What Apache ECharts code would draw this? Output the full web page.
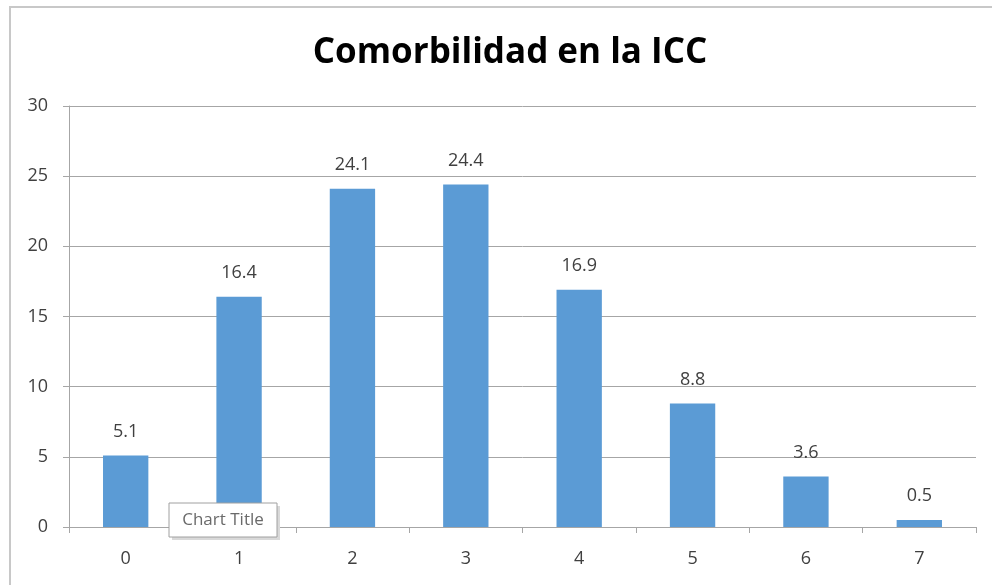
<!DOCTYPE html>
<html>
<head>
<meta charset="utf-8">
<script src="https://cdn.jsdelivr.net/npm/echarts@6/dist/echarts.min.js"></script>
<style>
html,body{margin:0;padding:0;background:#fff;}
#chart{width:992px;height:585px;}
</style>
</head>
<body>
<div id="chart"></div>
<script>
const titleText = 'Comorbilidad en la ICC';
const categories = ['0','1','2','3','4','5','6','7'];
const values = [5.1, 16.4, 24.1, 24.4, 16.9, 8.8, 3.6, 0.5];
const yTicks = {min: 0, max: 30, interval: 5};

const chart = echarts.init(document.getElementById('chart'));
chart.setOption({
  animation: false,
  backgroundColor: '#ffffff',
  title: {
    text: titleText,
    left: 505,
    textAlign: 'center',
    top: 31,
    textStyle: {fontFamily: 'Open Sans', fontWeight: 'bold', fontSize: 35, color: '#000'}
  },
  grid: {left: 69, right: 16, top: 106, bottom: 58, containLabel: false},
  xAxis: {
    type: 'category',
    data: categories,
    boundaryGap: true,
    axisLine: {lineStyle: {color: '#a6a6a6', width: 1}},
    axisTick: {show: true, alignWithLabel: false, length: 6, lineStyle: {color: '#a6a6a6'}},
    axisLabel: {fontFamily: 'Open Sans', fontSize: 18, color: '#404040', margin: 23}
  },
  yAxis: {
    type: 'value',
    min: yTicks.min, max: yTicks.max, interval: yTicks.interval,
    axisLine: {show: true, lineStyle: {color: '#a6a6a6'}},
    axisTick: {show: true, length: 6, lineStyle: {color: '#a6a6a6'}},
    splitLine: {lineStyle: {color: '#a6a6a6', width: 1}},
    axisLabel: {fontFamily: 'Open Sans', fontSize: 18, color: '#404040', margin: 21}
  },
  series: [{
    type: 'bar',
    data: values,
    barWidth: '40%',
    itemStyle: {color: '#5b9bd5'},
    label: {
      show: true, position: 'top', distance: 15,
      fontFamily: 'Open Sans', fontSize: 18, color: '#404040',
      formatter: p => p.value.toFixed(1)
    }
  }],
  graphic: [
    {type: 'rect', shape: {x: 10, y: 7, width: 1000, height: 600},
     style: {fill: 'none', stroke: '#c8c8c8', lineWidth: 2}, z: 100, silent: true},
    {type: 'rect', shape: {x: 172, y: 506, width: 108, height: 34},
     style: {fill: '#d9d9d9'}, z: 101, silent: true},
    {type: 'rect', shape: {x: 169, y: 503, width: 108, height: 34},
     style: {fill: '#ffffff', stroke: '#a0a0a0', lineWidth: 1}, z: 102, silent: true},
    {type: 'text', x: 223, y: 520, z: 103, silent: true,
     style: {text: 'Chart Title', fontFamily: 'Open Sans', fontSize: 17, fill: '#6a6a6a',
             textAlign: 'center', textVerticalAlign: 'middle'}}
  ]
});
</script>
</body>
</html>
